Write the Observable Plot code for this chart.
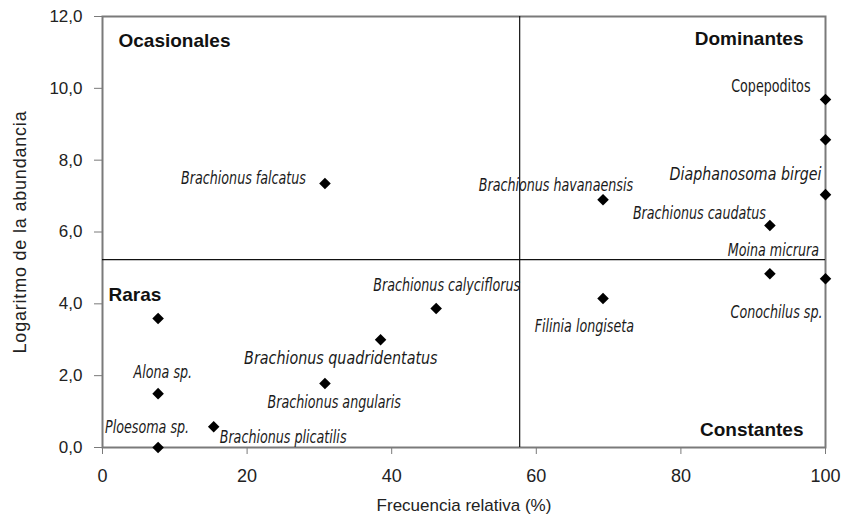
<!DOCTYPE html>
<html>
<head>
<meta charset="utf-8">
<script src="https://cdn.jsdelivr.net/npm/d3@7"></script>
<script src="https://cdn.jsdelivr.net/npm/@observablehq/plot@0.6"></script>
<style>
  html, body { margin: 0; padding: 0; background: #fff; }
  #chart svg { font-family: "Liberation Sans", Arial, sans-serif; }
  .ylab text { letter-spacing: 0.8px; }
</style>
</head>
<body>
<div id="chart"></div>
<script>
// --- data ---
const species = [
  "Copepoditos", "", "Diaphanosoma birgei", "Brachionus caudatus", "Moina micrura",
  "Conochilus sp.", "Brachionus havanaensis", "Filinia longiseta", "Brachionus calyciflorus",
  "Brachionus quadridentatus", "Brachionus angularis", "Brachionus falcatus",
  "Brachionus plicatilis", "Alona sp.", "", "Ploesoma sp."
];
const frequency = [100, 100, 100, 92.31, 92.31, 100, 69.23, 69.23, 46.15, 38.46, 30.77, 30.77, 15.38, 7.69, 7.69, 7.69];
const logAbundance = [9.69, 8.57, 7.04, 6.18, 4.84, 4.70, 6.90, 4.15, 3.87, 3.00, 1.78, 7.35, 0.58, 1.50, 3.59, 0.00];
const xTicks = [0, 20, 40, 60, 80, 100];
const yTicks = [0, 2, 4, 6, 8, 10, 12];
const freqThreshold = 57.7;
const abundThreshold = 5.23;
const quadrantNames = ["Ocasionales", "Dominantes", "Raras", "Constantes"];

// label placement (pixel offsets from the point, horizontal condensing)
const labelLayout = {
  "Copepoditos": {anchor: "end", dx: -15, dy: -13, upright: true},
  "Diaphanosoma birgei": {anchor: "end", dx: -4, dy: -20, squeeze: 0.93},
  "Brachionus caudatus": {anchor: "end", dx: -4, dy: -12},
  "Moina micrura": {anchor: "end", dx: 49, dy: -23},
  "Conochilus sp.": {anchor: "end", dx: -3, dy: 34},
  "Brachionus havanaensis": {anchor: "end", dx: 30, dy: -14},
  "Filinia longiseta": {anchor: "end", dx: 31, dy: 28},
  "Brachionus calyciflorus": {anchor: "end", dx: 84, dy: -23},
  "Brachionus quadridentatus": {anchor: "end", dx: 57, dy: 19, squeeze: 0.935},
  "Brachionus angularis": {anchor: "end", dx: 76, dy: 19},
  "Brachionus falcatus": {anchor: "end", dx: -19, dy: -5},
  "Brachionus plicatilis": {anchor: "start", dx: 6, dy: 11},
  "Alona sp.": {anchor: "end", dx: 34, dy: -21},
  "Ploesoma sp.": {anchor: "end", dx: 31, dy: -20}
};

const points = species.map((s, i) => ({name: s, x: frequency[i], y: logAbundance[i]}));
const labeled = points.filter(d => d.name);

const labelFont = '"Liberation Sans Narrow", "DejaVu Sans Condensed", "Liberation Sans", sans-serif';
const fmt = d => d.toFixed(1).replace(".", ",");

const textMarks = labeled.map(d => Plot.text([d], {
  x: "x", y: "y", text: "name",
  textAnchor: labelLayout[d.name].anchor,
  dx: labelLayout[d.name].dx, dy: labelLayout[d.name].dy,
  fontSize: 17, fontStyle: labelLayout[d.name].upright ? "normal" : "italic",
  fontFamily: labelFont, fill: "#1a1a1a", className: "splabel"
}));

const chart = Plot.plot({
  width: 841,
  height: 525,
  marginLeft: 102,
  marginRight: 16,
  marginTop: 16,
  marginBottom: 78,
  style: {fontSize: "17px", color: "#222", background: "#fff"},
  x: {domain: [0, 100]},
  y: {domain: [0, 12]},
  marks: [
    Plot.frame({stroke: "#7a7a7a", strokeWidth: 2}),
    Plot.axisX({ticks: xTicks, tickSize: 7, tickPadding: 15, fontSize: 18, stroke: "#7a7a7a", label: null}),
    Plot.axisY({ticks: yTicks, tickFormat: fmt, tickSize: 8, tickPadding: 12, fontSize: 17, stroke: "#7a7a7a", label: null}),
    Plot.text(["Frecuencia relativa (%)"], {frameAnchor: "bottom", dy: 63, fontSize: 17, fill: "#222"}),
    Plot.text(["Logaritmo de la abundancia"], {frameAnchor: "left", textAnchor: "middle", dx: -82, rotate: -90,
      fontSize: 18, fill: "#222", className: "ylab"}),
    Plot.ruleX([freqThreshold], {y1: 0, y2: 12, stroke: "#111", strokeWidth: 1.2}),
    Plot.ruleY([abundThreshold], {x1: 0, x2: 100, stroke: "#111", strokeWidth: 1.2}),
    Plot.dot(points, {x: "x", y: "y", symbol: "diamond2", r: 5.2, fill: "#000", stroke: null}),
    ...textMarks,
    Plot.text([quadrantNames[0]], {frameAnchor: "top-left", dx: 16, dy: 17, textAnchor: "start", fontWeight: "bold", fontSize: 19, fill: "#111"}),
    Plot.text([quadrantNames[1]], {frameAnchor: "top-right", dx: -22, dy: 15, textAnchor: "end", fontWeight: "bold", fontSize: 19, fill: "#111"}),
    Plot.text([quadrantNames[2]], {x: () => 0, y: () => abundThreshold, dx: 6, dy: 35, textAnchor: "start", fontWeight: "bold", fontSize: 19, fill: "#111"}),
    Plot.text([quadrantNames[3]], {frameAnchor: "bottom-right", dx: -22, dy: -12, textAnchor: "end", fontWeight: "bold", fontSize: 19, fill: "#111"})
  ]
});
document.getElementById("chart").append(chart);

// condense species labels horizontally, like the narrow face of the reference
chart.querySelectorAll(".splabel text").forEach(t => {
  const layout = labelLayout[t.textContent] || {};
  const w = t.getComputedTextLength();
  t.setAttribute("textLength", (w * (layout.squeeze || 0.83)).toFixed(1));
  t.setAttribute("lengthAdjust", "spacingAndGlyphs");
});
</script>
</body>
</html>
